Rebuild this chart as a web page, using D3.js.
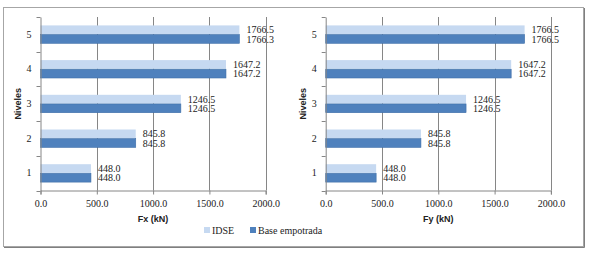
<!DOCTYPE html>
<html>
<head>
<meta charset="utf-8">
<script src="https://cdn.jsdelivr.net/npm/d3@7"></script>
<style>
  body { margin: 0; background: #fff; }
  .tick text { font-family: "Liberation Serif", "Times New Roman", serif; font-size: 10px; fill: #222; }
  .val-label { font-family: "Liberation Serif", "Times New Roman", serif; font-size: 10px; fill: #222; }
  .axis-title { font-family: "Liberation Sans", Arial, sans-serif; font-size: 9px; font-weight: bold; fill: #222; }
  .legend-text { font-family: "Liberation Serif", "Times New Roman", serif; font-size: 10px; fill: #222; }
</style>
</head>
<body>
<script>
var levels = ["1", "2", "3", "4", "5"];
var seriesNames = ["IDSE", "Base empotrada"];
var fxIdse = [448.0, 845.8, 1246.5, 1647.2, 1766.5];
var fxBase = [448.0, 845.8, 1246.5, 1647.2, 1766.3];
var fyIdse = [448.0, 845.8, 1246.5, 1647.2, 1766.5];
var fyBase = [448.0, 845.8, 1246.5, 1647.2, 1766.5];
var xTicks = [0, 500, 1000, 1500, 2000];
var colors = ["#c6d9f1", "#4f81bd"];

var w = 589, h = 253;

var svg = d3.select("body").append("svg")
    .attr("width", w)
    .attr("height", h);

// outer frame with a bit of shadow on right / bottom
svg.append("rect")
    .attr("x", 3.5).attr("y", 7.5)
    .attr("width", 580).attr("height", 239)
    .attr("fill", "#fff")
    .attr("stroke", "#a6a6a6");
svg.append("path")
    .attr("d", "M584.5,8 L584.5,247.5 L4,247.5")
    .attr("fill", "none")
    .attr("stroke", "#7f7f7f");

var plotTop = 17, plotBottom = 190.5, plotW = 225.2;

function drawChart(x0, idse, base, title) {
  var g = svg.append("g");

  var x = d3.scaleLinear().domain([0, 2000]).range([x0, x0 + plotW]);
  var y = d3.scaleBand().domain(levels).range([plotBottom, plotTop]);
  var ySub = d3.scaleBand().domain(seriesNames).range([0, y.bandwidth()])
      .paddingInner(0.04).paddingOuter(0.92);

  // gridlines
  g.selectAll(".grid")
    .data(xTicks.slice(1))
    .enter().append("line")
      .attr("x1", function(d) { return Math.round(x(d)) + 0.5; })
      .attr("x2", function(d) { return Math.round(x(d)) + 0.5; })
      .attr("y1", plotTop).attr("y2", plotBottom)
      .attr("stroke", "#868686");

  var rows = levels.map(function(l, i) {
    return {key: l, vals: [{s: seriesNames[0], v: idse[i]}, {s: seriesNames[1], v: base[i]}]};
  });

  var grp = g.selectAll(".lvl")
    .data(rows)
    .enter().append("g")
      .attr("transform", function(d) { return "translate(0," + y(d.key) + ")"; });

  grp.selectAll("rect")
    .data(function(d) { return d.vals; })
    .enter().append("rect")
      .attr("x", x(0))
      .attr("y", function(d) { return ySub(d.s); })
      .attr("width", function(d) { return x(d.v) - x(0); })
      .attr("height", ySub.bandwidth())
      .attr("fill", function(d, i) { return colors[i]; })
      .attr("stroke", function(d, i) { return i == 1 ? "#3f6fa8" : "none"; })
      .attr("stroke-width", 0.6);

  grp.selectAll(".val-label")
    .data(function(d) { return d.vals; })
    .enter().append("text")
      .classed("val-label", true)
      .attr("x", function(d) { return x(d.v) + 7; })
      .attr("y", function(d) { return ySub(d.s) + ySub.bandwidth() / 2 + 3.6; })
      .text(function(d) { return d.v.toFixed(1); });

  // x axis
  var xAxis = d3.axisBottom(x).tickValues(xTicks).tickSize(4).tickPadding(5)
      .tickFormat(function(d) { return d.toFixed(1); });
  var gx = g.append("g")
      .attr("transform", "translate(0," + plotBottom + ")")
      .call(xAxis);
  gx.select(".domain").attr("stroke", "#868686");
  gx.selectAll(".tick line").attr("stroke", "#868686");

  // y axis
  var yAxis = d3.axisLeft(y).tickSize(0).tickPadding(9);
  var gy = g.append("g")
      .attr("transform", "translate(" + x0 + ",0)")
      .call(yAxis);
  gy.select(".domain").attr("stroke", "#868686");

  // category boundary ticks
  var bounds = levels.map(function(l) { return y(l); }).concat([plotBottom]);
  g.selectAll(".ytick")
    .data(bounds)
    .enter().append("line")
      .attr("x1", x0 - 4).attr("x2", x0)
      .attr("y1", function(d) { return Math.round(d) + 0.5; })
      .attr("y2", function(d) { return Math.round(d) + 0.5; })
      .attr("stroke", "#868686");

  g.append("text")
      .attr("class", "axis-title")
      .attr("text-anchor", "middle")
      .attr("x", x0 + plotW / 2)
      .attr("y", 222)
      .text(title);

  g.append("text")
      .attr("class", "axis-title")
      .attr("text-anchor", "middle")
      .attr("transform", "translate(" + (x0 - 20) + "," + ((plotTop + plotBottom) / 2) + ") rotate(-90)")
      .text("Niveles");
}

drawChart(40.5, fxIdse, fxBase, "Fx (kN)");
drawChart(325.7, fyIdse, fyBase, "Fy (kN)");

// legend
var legend = svg.selectAll(".legend")
    .data(seriesNames)
    .enter().append("g")
      .attr("transform", function(d, i) { return "translate(" + [204, 250][i] + ",230)"; });
legend.append("rect")
    .attr("x", 0).attr("y", -3)
    .attr("width", 6).attr("height", 6)
    .attr("fill", function(d, i) { return colors[i]; });
legend.append("text")
    .attr("class", "legend-text")
    .attr("x", 8).attr("y", 3.5)
    .text(function(d) { return d; });
</script>
</body>
</html>
